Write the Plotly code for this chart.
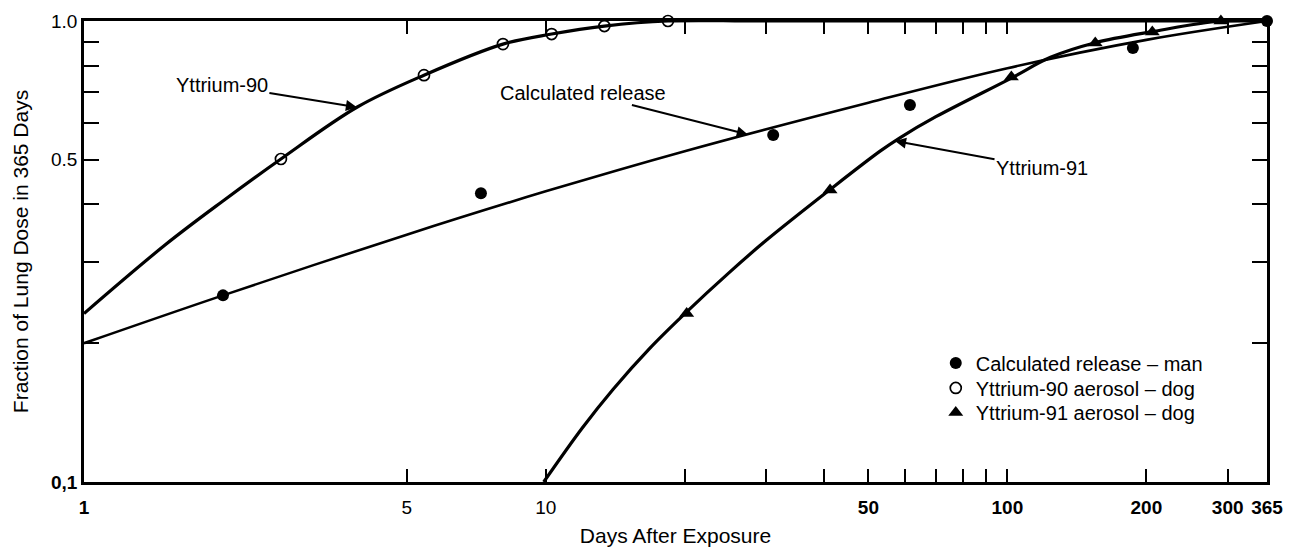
import numpy as np
import plotly.graph_objects as go

FONT = "Liberation Sans, Arial, Helvetica, sans-serif"

# Fitted curves (days after exposure vs fraction of 365-day lung dose)
y90_curve_days = [1, 1.5, 2.0, 2.67, 3.9, 5.45, 8.08, 10.3, 13.4, 18.4, 30, 365]
y90_curve_frac = [0.232, 0.327, 0.407, 0.502, 0.650, 0.763, 0.891, 0.937, 0.975, 1.0, 1.0, 1.0]

calc_curve_days = [1, 2, 5, 10, 20, 50, 100, 200, 365]
calc_curve_frac = [0.200, 0.254, 0.344, 0.427, 0.522, 0.665, 0.790, 0.910, 1.0]

y91_curve_days = [9.9, 12, 14, 16.8, 20.2, 25, 30, 41.3, 53, 58.5, 70, 102, 124, 155, 206, 290, 365]
y91_curve_frac = [0.100, 0.131, 0.159, 0.195, 0.234, 0.285, 0.334, 0.431, 0.522, 0.558, 0.620,
                  0.752, 0.834, 0.897, 0.948, 1.0, 1.0]

# Measured points
calc_pts_days = [2.0, 7.24, 31.1, 61.5, 187, 365]
calc_pts_frac = [0.254, 0.423, 0.566, 0.657, 0.874, 1.0]

y90_pts_days = [2.67, 5.45, 8.08, 10.3, 13.4, 18.4]
y90_pts_frac = [0.502, 0.763, 0.891, 0.937, 0.975, 1.0]

y91_pts_days = [20.2, 41.3, 102, 155, 206, 290]
y91_pts_frac = [0.232, 0.430, 0.756, 0.896, 0.946, 1.0]

# Axis ticks
x_tick_vals = [1, 5, 10, 20, 30, 40, 50, 60, 70, 80, 90, 100, 200, 300, 365]
x_tick_text = ["<b>1</b>", "5", "10", "", "", "", "<b>50</b>", "", "", "", "",
               "<b>100</b>", "<b>200</b>", "<b>300</b>", "<b>365</b>"]
y_tick_vals = [0.1, 0.2, 0.3, 0.4, 0.5, 0.6, 0.7, 0.8, 0.9, 1.0]
y_tick_text = ["<b>0,1</b>", "", "", "", "0.5", "", "", "", "", "1.0"]

# Curve labels: text, curve, day where the arrow meets the curve, text offset (px)
curve_labels = [
    ("Yttrium-90", y90_curve_days, y90_curve_frac, 3.9, -135, -22),
    ("Calculated release", calc_curve_days, calc_curve_frac, 27.4, -165, -42),
    ("Yttrium-91", y91_curve_days, y91_curve_frac, 57.1, 147, 27),
]

fig = go.Figure()

for xs, ys, w in [(y90_curve_days, y90_curve_frac, 3.2),
                  (calc_curve_days, calc_curve_frac, 2.6),
                  (y91_curve_days, y91_curve_frac, 3.2)]:
    fig.add_trace(go.Scatter(
        x=xs, y=ys, mode="lines", showlegend=False, hoverinfo="skip",
        line=dict(color="black", width=w, shape="spline", smoothing=1.0),
    ))

# Point series, each with its own one-row legend block
fig.add_trace(go.Scatter(
    x=calc_pts_days, y=calc_pts_frac, mode="markers",
    name="Calculated release \u2013 man", legend="legend",
    marker=dict(symbol="circle", size=12, color="black"),
    cliponaxis=False,
))
fig.add_trace(go.Scatter(
    x=y90_pts_days, y=y90_pts_frac, mode="markers",
    name="Yttrium-90 aerosol \u2013 dog", legend="legend2",
    marker=dict(symbol="circle-open", size=11, color="black", line=dict(width=1.7)),
    cliponaxis=False,
))
fig.add_trace(go.Scatter(
    x=y91_pts_days, y=y91_pts_frac, mode="markers",
    name="Yttrium-91 aerosol \u2013 dog", legend="legend3",
    marker=dict(symbol="triangle-up", size=13, color="black"),
    cliponaxis=False,
))

for text, cx, cy, day, ax, ay in curve_labels:
    frac = 10 ** np.interp(np.log10(day), np.log10(cx), np.log10(cy))
    fig.add_annotation(
        x=np.log10(day), y=np.log10(frac), xref="x", yref="y",
        text=text, showarrow=True, ax=ax, ay=ay,
        arrowhead=2, arrowsize=1.1, arrowwidth=2, arrowcolor="black",
        font=dict(family=FONT, size=20, color="black"),
    )

legend_style = dict(x=0.72, xanchor="left", yanchor="middle",
                    bgcolor="rgba(0,0,0,0)", font=dict(size=20), itemsizing="trace")

fig.update_layout(
    width=1301, height=551,
    margin=dict(l=84, r=34, t=21, b=69),
    paper_bgcolor="white", plot_bgcolor="white",
    font=dict(family=FONT, size=19, color="black"),
    legend=dict(y=0.258, **legend_style),
    legend2=dict(y=0.204, **legend_style),
    legend3=dict(y=0.151, **legend_style),
)

fig.update_xaxes(
    type="log", range=[0, np.log10(365)], automargin=False,
    tickmode="array", tickvals=x_tick_vals, ticktext=x_tick_text, tickangle=0,
    ticks="inside", ticklen=13, tickwidth=2, tickcolor="black",
    showline=True, linecolor="black", linewidth=2.5, mirror="ticks",
    showgrid=False, zeroline=False, ticklabelstandoff=6,
    title=dict(text="Days After Exposure", standoff=12, font=dict(size=21)),
)
fig.update_yaxes(
    type="log", range=[-1, 0], automargin=False,
    tickmode="array", tickvals=y_tick_vals, ticktext=y_tick_text,
    ticks="inside", ticklen=15, tickwidth=2, tickcolor="black",
    showline=True, linecolor="black", linewidth=2.5, mirror="ticks",
    showgrid=False, zeroline=False, ticklabelstandoff=0,
    title=dict(text="Fraction of Lung Dose in 365 Days", standoff=17, font=dict(size=21)),
)

fig.write_html("out.html")
